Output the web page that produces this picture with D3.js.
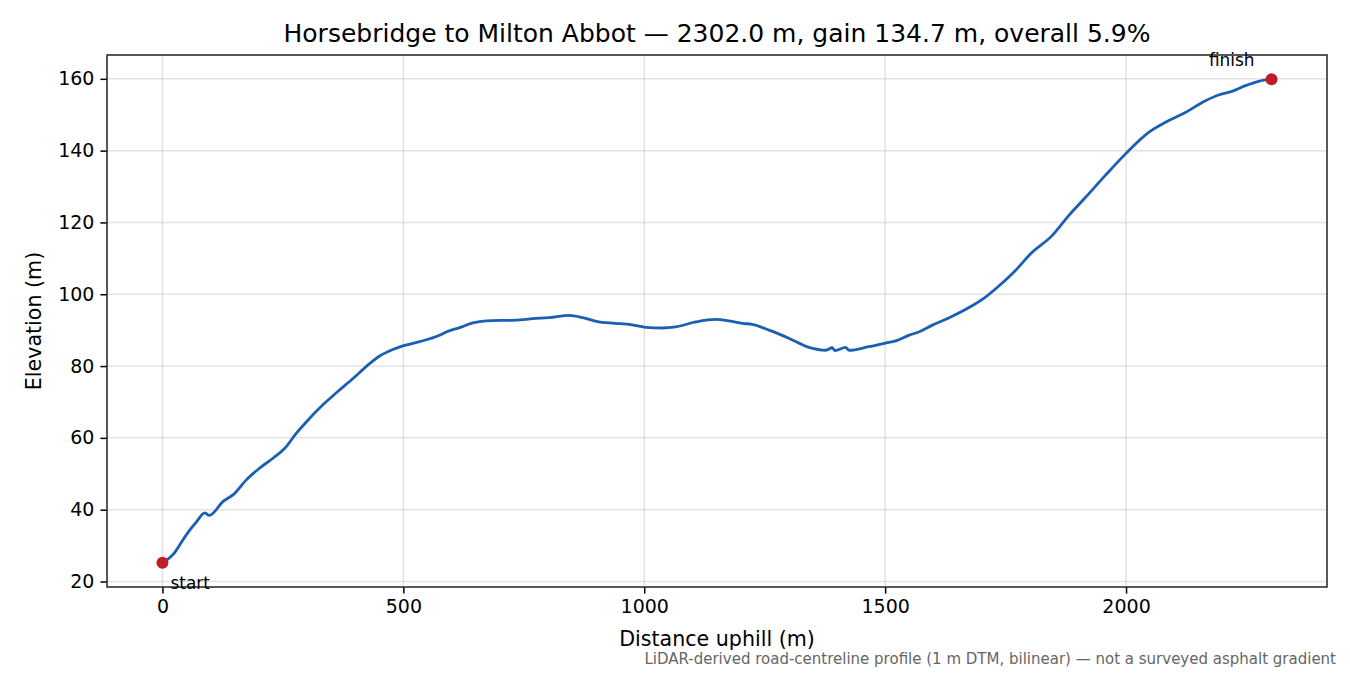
<!DOCTYPE html>
<html>
<head>
<meta charset="utf-8">
<script src="https://cdn.jsdelivr.net/npm/d3@7"></script>
<style>
  body { margin: 0; background: #fff; }
  text { font-family: "DejaVu Sans", sans-serif; }
</style>
</head>
<body>
<div id="chart"></div>
<script>
// Profile: distance uphill (m) and elevation (m)
var distance = [0, 25, 43, 57, 70, 88, 97, 126, 147, 174, 202, 230, 254, 278, 299, 333, 364, 396, 430, 451, 478, 499, 534, 575, 589, 617, 644, 672, 734, 769, 803, 844, 872, 906, 969, 1003, 1038, 1065, 1107, 1148, 1176, 1204, 1224, 1259, 1301, 1342, 1377, 1390, 1396, 1418, 1425, 1466, 1501, 1522, 1550, 1570, 1598, 1632, 1674, 1709, 1736, 1771, 1802, 1847, 1881, 1916, 1957, 1999, 2047, 2082, 2123, 2165, 2192, 2220, 2248, 2275, 2302];
var elevation = [25.2, 28.0, 31.7, 34.4, 36.5, 39.1, 38.4, 42.3, 44.2, 48.3, 51.6, 54.4, 57.1, 61.3, 64.5, 69.2, 72.9, 76.6, 80.7, 82.8, 84.6, 85.6, 86.8, 88.6, 89.5, 90.7, 92.0, 92.6, 92.8, 93.2, 93.5, 94.1, 93.5, 92.3, 91.6, 90.8, 90.6, 90.9, 92.3, 93.0, 92.6, 91.9, 91.6, 90.0, 87.7, 85.2, 84.4, 85.1, 84.3, 85.2, 84.4, 85.4, 86.4, 87.0, 88.6, 89.5, 91.4, 93.4, 96.3, 99.3, 102.3, 106.7, 111.3, 116.4, 121.9, 127.0, 133.1, 139.1, 145.1, 147.9, 150.6, 153.9, 155.5, 156.5, 158.1, 159.3, 159.9];
var xTicks = [0, 500, 1000, 1500, 2000];
var yTicks = [20, 40, 60, 80, 100, 120, 140, 160];
var endLabels = ["start", "finish"];

var data = distance.map(function(d, i) { return {d: d, e: elevation[i]}; });

var W = 1350, H = 675;
var margin = {top: 55, right: 23, bottom: 88, left: 107},
    width = W - margin.left - margin.right,
    height = H - margin.top - margin.bottom;

var svg = d3.select("#chart")
  .append("svg")
    .attr("width", W)
    .attr("height", H);

var g = svg.append("g")
    .attr("transform", "translate(" + margin.left + "," + margin.top + ")");

// matplotlib style 5% padding
var xExt = d3.extent(distance), yExt = d3.extent(elevation);
var xPad = (xExt[1] - xExt[0]) * 0.05, yPad = (yExt[1] - yExt[0]) * 0.05;

var x = d3.scaleLinear()
  .domain([xExt[0] - xPad, xExt[1] + xPad])
  .range([0, width]);
var y = d3.scaleLinear()
  .domain([yExt[0] - yPad, yExt[1] + yPad])
  .range([height, 0]);

// Grid
g.append("g").selectAll("line")
  .data(xTicks).enter().append("line")
    .attr("x1", function(d) { return x(d); })
    .attr("x2", function(d) { return x(d); })
    .attr("y1", 0).attr("y2", height)
    .style("stroke", "#b0b0b0").style("stroke-opacity", 0.35).style("stroke-width", 1.5);
g.append("g").selectAll("line")
  .data(yTicks).enter().append("line")
    .attr("x1", 0).attr("x2", width)
    .attr("y1", function(d) { return y(d); })
    .attr("y2", function(d) { return y(d); })
    .style("stroke", "#b0b0b0").style("stroke-opacity", 0.35).style("stroke-width", 1.5);

// Axes
var xAxis = g.append("g")
  .attr("transform", "translate(0," + height + ")")
  .call(d3.axisBottom(x).tickValues(xTicks).tickSize(6.6).tickPadding(6).tickFormat(d3.format("d")));
var yAxis = g.append("g")
  .call(d3.axisLeft(y).tickValues(yTicks).tickSize(6.6).tickPadding(6).tickFormat(d3.format("d")));
[xAxis, yAxis].forEach(function(a) {
  a.select(".domain").remove();
  a.selectAll("text").style("font-size", "19px").style("fill", "#000").style("font-family", "DejaVu Sans");
  a.selectAll("line").style("stroke", "#000").style("stroke-width", 1.5);
});

// Frame
g.append("rect")
  .attr("width", width).attr("height", height)
  .style("fill", "none").style("stroke", "#222").style("stroke-width", 1.5);

// Profile line
g.append("path")
  .datum(data)
  .attr("d", d3.line()
    .x(function(d) { return x(d.d); })
    .y(function(d) { return y(d.e); })
    .curve(d3.curveMonotoneX))
  .style("fill", "none")
  .style("stroke", "#1a5fb4")
  .style("stroke-width", 2.8)
  .style("stroke-linejoin", "round");

// End points
var ends = [data[0], data[data.length - 1]];
g.selectAll("circle.end")
  .data(ends).enter().append("circle")
    .attr("cx", function(d) { return x(d.d); })
    .attr("cy", function(d) { return y(d.e); })
    .attr("r", 6)
    .style("fill", "#c01c28");

g.append("text")
  .attr("x", x(ends[0].d) + 8)
  .attr("y", y(ends[0].e) + 26)
  .style("font-size", "16.9px")
  .text(endLabels[0]);
g.append("text")
  .attr("x", x(ends[1].d) - 17)
  .attr("y", y(ends[1].e) - 13)
  .attr("text-anchor", "end")
  .style("font-size", "16.9px")
  .text(endLabels[1]);

// Title and labels
svg.append("text")
  .attr("x", margin.left + width / 2)
  .attr("y", 42)
  .attr("text-anchor", "middle")
  .style("font-size", "25px")
  .text("Horsebridge to Milton Abbot \u2014 2302.0 m, gain 134.7 m, overall 5.9%");

svg.append("text")
  .attr("x", margin.left + width / 2)
  .attr("y", 646)
  .attr("text-anchor", "middle")
  .style("font-size", "20.6px")
  .text("Distance uphill (m)");

svg.append("text")
  .attr("transform", "translate(41," + (margin.top + height / 2) + ") rotate(-90)")
  .attr("text-anchor", "middle")
  .style("font-size", "20.6px")
  .text("Elevation (m)");

svg.append("text")
  .attr("x", 1336)
  .attr("y", 664)
  .attr("text-anchor", "end")
  .style("font-size", "15px")
  .style("fill", "#666")
  .text("LiDAR-derived road-centreline profile (1 m DTM, bilinear) \u2014 not a surveyed asphalt gradient");
</script>
</body>
</html>
